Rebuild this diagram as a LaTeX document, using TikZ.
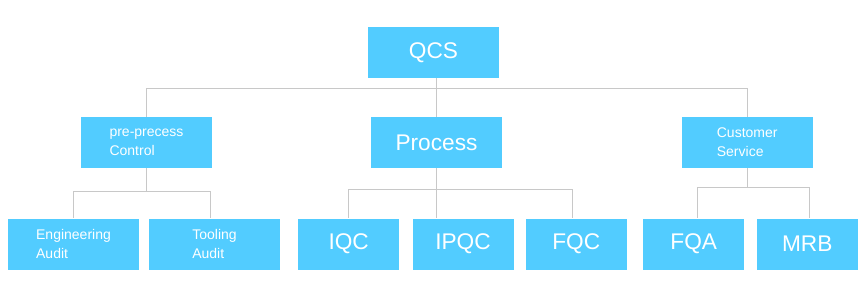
\documentclass[tikz,border=0pt]{standalone}
\usepackage{fontspec}
\setmainfont{Liberation Sans}
\usepackage{tikz}
\usetikzlibrary{positioning, calc}
\definecolor{boxblue}{RGB}{82, 204, 255}
\definecolor{linegray}{RGB}{200, 200, 200}

\begin{document}
\begin{tikzpicture}[
    x=0.75pt, y=-0.75pt,
    box/.style={rectangle, fill=boxblue, text=white, inner sep=0pt,
                minimum width=131*0.75pt, minimum height=51*0.75pt,
                font=\fontsize{17}{20}\selectfont},
    small/.style={box, align=left, font=\fontsize{10.5}{14.5}\selectfont},
    leaf/.style={box, minimum width=101*0.75pt},
    link/.style={draw=linegray, line width=0.8pt}
]
\useasboundingbox (0,0) rectangle (866,300);

% Top
\node[box] (qcs) at (433.5, 52.5) {QCS};

% Second level
\node[small] (pre)  at (146.5, 142.5) {pre-precess\\Control};
\node[box]   (proc) at (436.5, 142.5) {Process};
\node[small] (cust) at (747.2, 142.5) {Customer\\Service};

% Third level
\node[small] (eng)  at ( 73.5, 244) {Engineering\\Audit};
\node[small] (tool) at (214.5, 244) {Tooling\\Audit};
\node[leaf]  (iqc)  at (348.7, 244) {IQC};
\node[leaf]  (ipqc) at (463.0, 244) {IPQC};
\node[leaf]  (fqc)  at (576.3, 244) {FQC};
\node[leaf]  (fqa)  at (693.7, 244) {FQA};
\node[leaf]  (mrb)  at (807.2, 244) {MRB};

% QCS -> second level
\draw[link] (proc.north) -- (proc.north |- qcs.south);
\draw[link] (pre.north) -- ++(0,-28) -| (cust.north);

% pre-precess -> audits
\draw[link] (pre.south) -- ++(0,23) -| (eng.north);
\draw[link] (pre.south) ++(0,23) -| ([xshift=-3]tool.north);

% Process -> IQC, IPQC, FQC
\draw[link] (proc.south) -- (proc.south |- ipqc.north);
\draw[link] (proc.south) ++(0,21.5) -| (iqc.north);
\draw[link] (proc.south) ++(0,21.5) -| ([xshift=-3]fqc.north);

% Customer Service -> FQA, MRB
\draw[link] (cust.south) -- ++(0,19) -| ([xshift=3]fqa.north);
\draw[link] (cust.south) ++(0,19) -| ([xshift=2]mrb.north);

\end{tikzpicture}
\end{document}
